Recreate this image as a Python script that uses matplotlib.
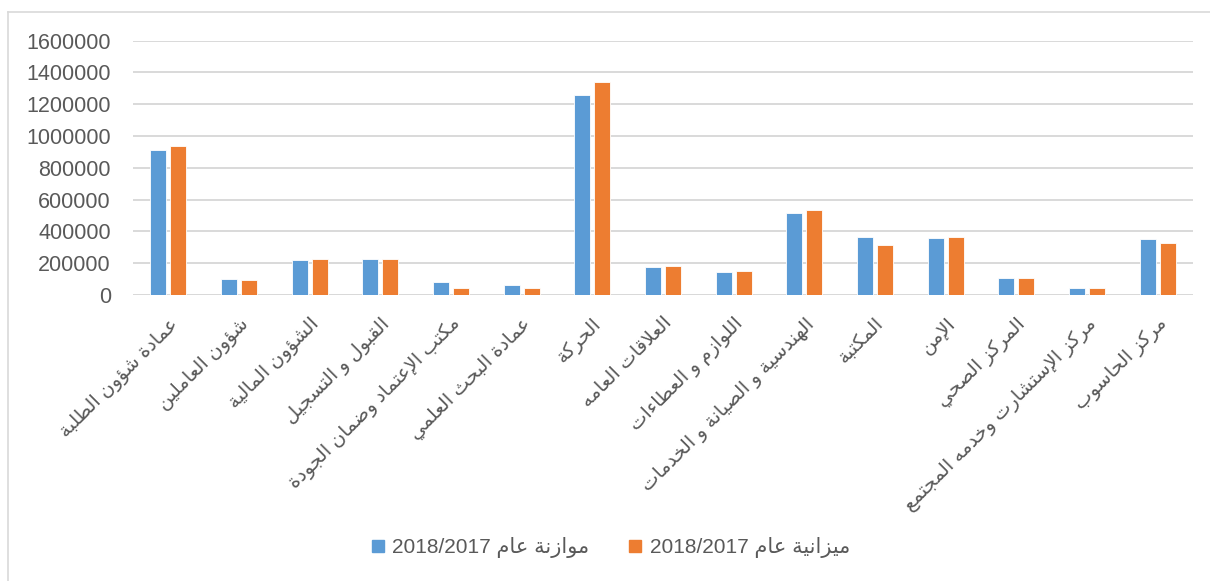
import matplotlib
matplotlib.use('Agg')
import matplotlib.pyplot as plt
import numpy as np
from matplotlib.lines import Line2D

plt.rcParams['font.family'] = ['Liberation Sans', 'DejaVu Sans']

# data
categories = ['عمادة شؤون الطلبة', 'شؤون العاملين', 'الشؤون المالية', 'القبول و التسجيل',
              'مكتب الإعتماد وضمان الجودة', 'عمادة البحث العلمي', 'الحركة', 'العلاقات العامه',
              'اللوازم و العطاءات', 'الهندسية و الصيانة و الخدمات', 'المكتبة', 'الإمن',
              'المركز الصحي', 'مركز الإستشارت وخدمه المجتمع', 'مركز الحاسوب']
budget = [912000, 103000, 220000, 228000, 82000, 61000, 1256000, 176000,
          145000, 514000, 365000, 357000, 107000, 46000, 350000]
actual = [939000, 92000, 224000, 226000, 44000, 44000, 1342000, 180000,
          153000, 535000, 312000, 365000, 107000, 46000, 327000]
series_names = ['موازنة عام', 'ميزانية عام']
year = '2018/2017'

# minimal arabic shaping: (isolated, final, initial, medial); 2-tuples join only to the right
FORMS = {
    'ء': (0xFE80,), 'آ': (0xFE81, 0xFE82), 'أ': (0xFE83, 0xFE84), 'ؤ': (0xFE85, 0xFE86),
    'إ': (0xFE87, 0xFE88), 'ئ': (0xFE89, 0xFE8A, 0xFE8B, 0xFE8C), 'ا': (0xFE8D, 0xFE8E),
    'ب': (0xFE8F, 0xFE90, 0xFE91, 0xFE92), 'ة': (0xFE93, 0xFE94),
    'ت': (0xFE95, 0xFE96, 0xFE97, 0xFE98), 'ث': (0xFE99, 0xFE9A, 0xFE9B, 0xFE9C),
    'ج': (0xFE9D, 0xFE9E, 0xFE9F, 0xFEA0), 'ح': (0xFEA1, 0xFEA2, 0xFEA3, 0xFEA4),
    'خ': (0xFEA5, 0xFEA6, 0xFEA7, 0xFEA8), 'د': (0xFEA9, 0xFEAA), 'ذ': (0xFEAB, 0xFEAC),
    'ر': (0xFEAD, 0xFEAE), 'ز': (0xFEAF, 0xFEB0),
    'س': (0xFEB1, 0xFEB2, 0xFEB3, 0xFEB4), 'ش': (0xFEB5, 0xFEB6, 0xFEB7, 0xFEB8),
    'ص': (0xFEB9, 0xFEBA, 0xFEBB, 0xFEBC), 'ض': (0xFEBD, 0xFEBE, 0xFEBF, 0xFEC0),
    'ط': (0xFEC1, 0xFEC2, 0xFEC3, 0xFEC4), 'ظ': (0xFEC5, 0xFEC6, 0xFEC7, 0xFEC8),
    'ع': (0xFEC9, 0xFECA, 0xFECB, 0xFECC), 'غ': (0xFECD, 0xFECE, 0xFECF, 0xFED0),
    'ف': (0xFED1, 0xFED2, 0xFED3, 0xFED4), 'ق': (0xFED5, 0xFED6, 0xFED7, 0xFED8),
    'ك': (0xFED9, 0xFEDA, 0xFEDB, 0xFEDC), 'ل': (0xFEDD, 0xFEDE, 0xFEDF, 0xFEE0),
    'م': (0xFEE1, 0xFEE2, 0xFEE3, 0xFEE4), 'ن': (0xFEE5, 0xFEE6, 0xFEE7, 0xFEE8),
    'ه': (0xFEE9, 0xFEEA, 0xFEEB, 0xFEEC), 'و': (0xFEED, 0xFEEE), 'ى': (0xFEEF, 0xFEF0),
    'ي': (0xFEF1, 0xFEF2, 0xFEF3, 0xFEF4),
    # lam-alef ligatures (placeholders)
    '\uE001': (0xFEF5, 0xFEF6), '\uE002': (0xFEF7, 0xFEF8),
    '\uE003': (0xFEF9, 0xFEFA), '\uE004': (0xFEFB, 0xFEFC),
}
LIG = {'لآ': '\uE001', 'لأ': '\uE002', 'لإ': '\uE003', 'لا': '\uE004'}


def ar(text):
    for k, v in LIG.items():
        text = text.replace(k, v)
    out = []
    for i, c in enumerate(text):
        if c not in FORMS:
            out.append(c)
            continue
        f = FORMS[c]
        prev = text[i - 1] if i > 0 else ''
        nxt = text[i + 1] if i + 1 < len(text) else ''
        jp = prev in FORMS and len(FORMS[prev]) == 4
        jn = nxt in FORMS and len(f) == 4
        if len(f) == 1:
            out.append(chr(f[0]))
        elif len(f) == 2:
            out.append(chr(f[1] if jp else f[0]))
        else:
            idx = {(False, False): 0, (True, False): 1, (False, True): 2, (True, True): 3}[(jp, jn)]
            out.append(chr(f[idx]))
    return ''.join(out)[::-1]


blue = '#5B9BD5'
orange = '#ED7D31'
txt = '#595959'
fs = 15.5

fig = plt.figure(figsize=(12.1, 5.81), dpi=100)
ax = fig.add_axes([0.11, 0.4923, 0.876, 0.4377])

x = np.arange(len(categories))
w = 0.226
ax.bar(x - 0.141, budget, w, color=blue, edgecolor='white', linewidth=0.6, zorder=3)
ax.bar(x + 0.141, actual, w, color=orange, edgecolor='white', linewidth=0.6, zorder=3)

ax.set_xlim(-0.5, len(categories) - 0.5)
ax.set_ylim(0, 1600000)
ax.set_yticks(np.arange(0, 1600001, 200000))
ax.set_yticklabels([str(v) for v in range(0, 1600001, 200000)])
ax.yaxis.grid(True, color='#D9D9D9', linewidth=1.4, zorder=0)
for s in ax.spines.values():
    s.set_visible(False)
ax.axhline(0, color='#D9D9D9', linewidth=1.4, zorder=1)
ax.tick_params(axis='y', length=0, pad=16, labelsize=fs, labelcolor=txt)
ax.tick_params(axis='x', length=0, pad=14, labelsize=14, labelcolor=txt)
ax.set_xticks(x)
ax.set_xticklabels([ar(c) for c in categories], rotation=45, ha='right',
                   rotation_mode='anchor')

handles = [Line2D([], [], marker='s', linestyle='none', markersize=9, color=blue),
           Line2D([], [], marker='s', linestyle='none', markersize=9, color=orange)]
labels = [year + ' ' + ar(n) for n in series_names]
fig.legend(handles, labels, loc='center', bbox_to_anchor=(0.504, 0.057), ncol=2,
           frameon=False, fontsize=15, labelcolor=txt, columnspacing=1.8,
           handletextpad=0.3, handlelength=0.8)

# light chart border
fig.add_artist(Line2D([8 / 1210, 1], [1 - 12 / 581] * 2, color='#D9D9D9', linewidth=1.2))
fig.add_artist(Line2D([8 / 1210] * 2, [0, 1 - 12 / 581], color='#D9D9D9', linewidth=1.2))

fig.savefig('out.png', dpi=100)
